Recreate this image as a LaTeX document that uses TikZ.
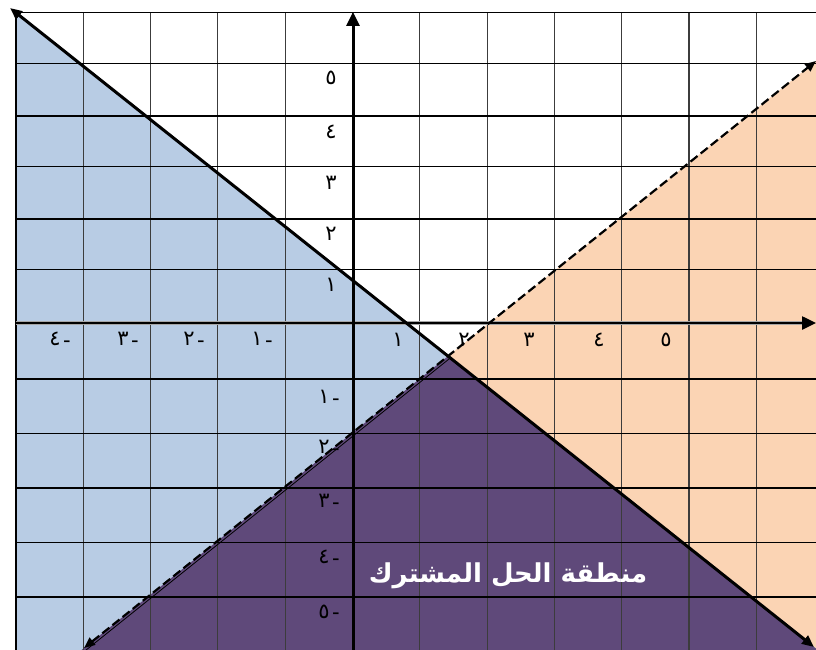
\documentclass[tikz,border=0pt]{standalone}
\usepackage{fontspec}
\setmainfont{DejaVu Sans}
\newfontfamily\arabicfont[Script=Arabic]{DejaVu Sans}
\TeXXeTstate=1
\usetikzlibrary{arrows.meta}
\definecolor{fillblue}{HTML}{B8CCE4}
\definecolor{fillorange}{HTML}{FBD4B4}
\definecolor{fillpurple}{HTML}{5F497A}
\definecolor{vgrid}{HTML}{3C3C3C}
\newcommand{\negnum}[1]{#1\kern2.5pt\raisebox{-1.5pt}{-}}
\begin{document}
\begin{tikzpicture}[x=1pt,y=-1pt,
  hline/.style={line width=1.5pt,black},
  vline/.style={line width=1.1pt,vgrid},
  axisline/.style={line width=3pt,black},
  tipbig/.style={-{Triangle[length=14pt,width=13pt]}},
  solidbound/.style={line width=3pt,black,{Triangle[length=12pt,width=10pt]}-{Triangle[length=12pt,width=10pt]}},
  dashbound/.style={line width=2.2pt,black,dash pattern=on 9pt off 4pt,{Triangle[length=11pt,width=9pt]}-{Triangle[length=11pt,width=9pt]}},
  lab/.style={font=\arabicfont\fontsize{21}{21}\selectfont,inner sep=0pt,text=black},
  titlelab/.style={font=\arabicfont\bfseries\fontsize{26}{26}\selectfont,inner sep=0pt,text=white}]
\useasboundingbox (0,0) rectangle (816,650);
% key points
\coordinate (TL) at (16,12.7);
\coordinate (BR) at (816,650);
\coordinate (S1) at (10,8);
\coordinate (S2) at (814,647);
\coordinate (D1) at (84,648);
\coordinate (D2) at (816,61);
\coordinate (P) at (448,356.1);
\coordinate (SE) at (816,648.6);
\coordinate (DB) at (81.5,650);
% fills
\begin{scope}
\clip (TL) rectangle (BR);
\fill[fillorange] (D2) -- (816,650) -- (DB) -- cycle;
\fill[fillblue] (TL) -- (SE) -- (816,650) -- (16,650) -- cycle;
\fill[fillpurple] (P) -- (SE) -- (816,650) -- (DB) -- cycle;
\end{scope}
% grid
\foreach \i in {1,...,11} \draw[vline] ({16+67.3*\i},12.7) -- ({16+67.3*\i},650);
\foreach \y in {63.3,116,166.7,219,269.3,379,433.5,488,542.5,597} \draw[hline] (16,\y) -- (816,\y);
\draw[hline] (16,12.7) -- (816,12.7);
\draw[hline] (16,12.7) -- (16,650);
% axes
\coordinate (XA) at (16,323);
\coordinate (XB) at (816,323);
\coordinate (YA) at (353,650);
\coordinate (YB) at (353,12);
\draw[axisline,line width=4.5pt,gray!70] (XA) -- (806,323);
\draw[axisline,line width=2.5pt,tipbig] (XA) -- (XB);
\draw[axisline,tipbig] (YA) -- (YB);
% boundary lines
\draw[line width=0.8pt,black] ([shift={(1.5,2.5)}]P) -- ([shift={(1.5,2.5)}]DB);
\draw[dashbound] (D1) -- (D2);
\draw[solidbound] (S1) -- (S2);
% y labels
\node[lab] (y5) at (331,78) {٥};
\node[lab] (y4) at (331,132) {٤};
\node[lab] (y3) at (331,183) {٣};
\node[lab] (y2) at (331,234) {٢};
\node[lab] (y1) at (331,285) {١};
\node[lab] (ym1) at (329,398) {\negnum{١}};
\node[lab] (ym2) at (329,448) {\negnum{٢}};
\node[lab] (ym3) at (329,502) {\negnum{٣}};
\node[lab] (ym4) at (329,558) {\negnum{٤}};
\node[lab] (ym5) at (329,612) {\negnum{٥}};
% x labels
\node[lab] (xm4) at (60,340) {\negnum{٤}};
\node[lab] (xm3) at (128,340) {\negnum{٣}};
\node[lab] (xm2) at (194,340) {\negnum{٢}};
\node[lab] (xm1) at (262,340) {\negnum{١}};
\node[lab] (x1) at (398,340) {١};
\node[lab] (x2) at (464,340) {٢};
\node[lab] (x3) at (529,340) {٣};
\node[lab] (x4) at (599,340) {٤};
\node[lab] (x5) at (666,340) {٥};
% title
\node[titlelab] (region) at (508,576) {\beginR منطقة الحل المشترك\endR};
\end{tikzpicture}
\end{document}
